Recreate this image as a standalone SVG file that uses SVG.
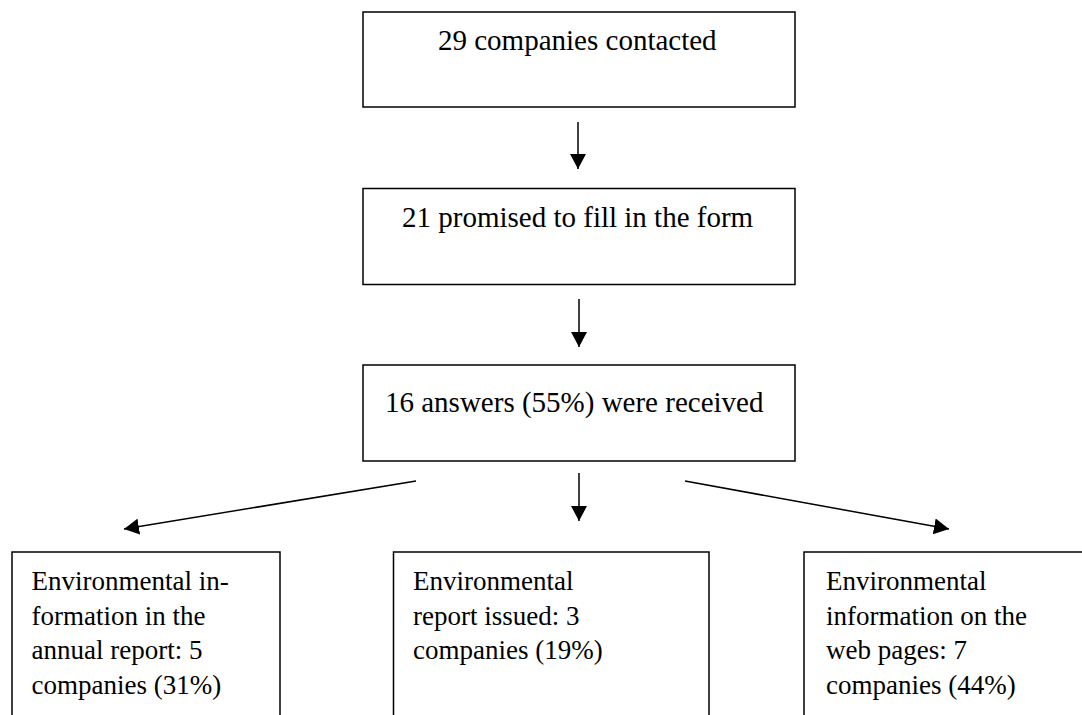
<svg xmlns="http://www.w3.org/2000/svg" width="1082" height="715" viewBox="0 0 1082 715">
<style>
.box{fill:#fff;stroke:#000;stroke-width:1.5}
.t{font-family:"Liberation Serif","Times New Roman",serif;font-size:29px;fill:#000}
.b{font-family:"Liberation Serif","Times New Roman",serif;font-size:27px;fill:#000}
.c{stroke:#000;stroke-width:1.5;fill:none;marker-end:url(#ah)}
</style>
<defs>
<marker id="ah" markerUnits="userSpaceOnUse" markerWidth="16" markerHeight="16" refX="15" refY="8" orient="auto">
<path d="M0,0 L15,8 L0,16 z" fill="#000"/>
</marker>
</defs>
<rect width="1082" height="715" fill="#fff"/>
<g id="n1"><rect class="box" x="363" y="12" width="432" height="95"/><text class="t" x="438" y="50">29 companies contacted</text></g>
<g id="n2"><rect class="box" x="363" y="188.5" width="432" height="96"/><text class="t" x="402" y="227">21 promised to fill in the form</text></g>
<g id="n3"><rect class="box" x="363" y="365" width="432" height="96"/><text class="t" x="385" y="412">16 answers (55%) were received</text></g>
<g id="n4"><rect class="box" x="12" y="552" width="268" height="180"/><text class="b" x="31.5" y="590"><tspan x="31.5">Environmental in-</tspan><tspan x="31.5" dy="34.5">formation in the</tspan><tspan x="31.5" dy="34.5">annual report: 5</tspan><tspan x="31.5" dy="34.5">companies (31%)</tspan></text></g>
<g id="n5"><rect class="box" x="393.5" y="552" width="315.5" height="180"/><text class="b" x="413" y="590"><tspan x="413">Environmental</tspan><tspan x="413" dy="34.5">report issued: 3</tspan><tspan x="413" dy="34.5">companies (19%)</tspan></text></g>
<g id="n6"><rect class="box" x="804" y="552" width="290" height="180"/><text class="b" x="826" y="590"><tspan x="826">Environmental</tspan><tspan x="826" dy="34.5">information on the</tspan><tspan x="826" dy="34.5">web pages: 7</tspan><tspan x="826" dy="34.5">companies (44%)</tspan></text></g>
<g id="connectors">
<line class="c" x1="578" y1="122" x2="578" y2="169"/>
<line class="c" x1="579" y1="299" x2="579" y2="347"/>
<line class="c" x1="579" y1="473" x2="579" y2="521"/>
<line class="c" x1="416" y1="481" x2="124" y2="529"/>
<line class="c" x1="685" y1="481" x2="949" y2="529"/>
</g>
</svg>
